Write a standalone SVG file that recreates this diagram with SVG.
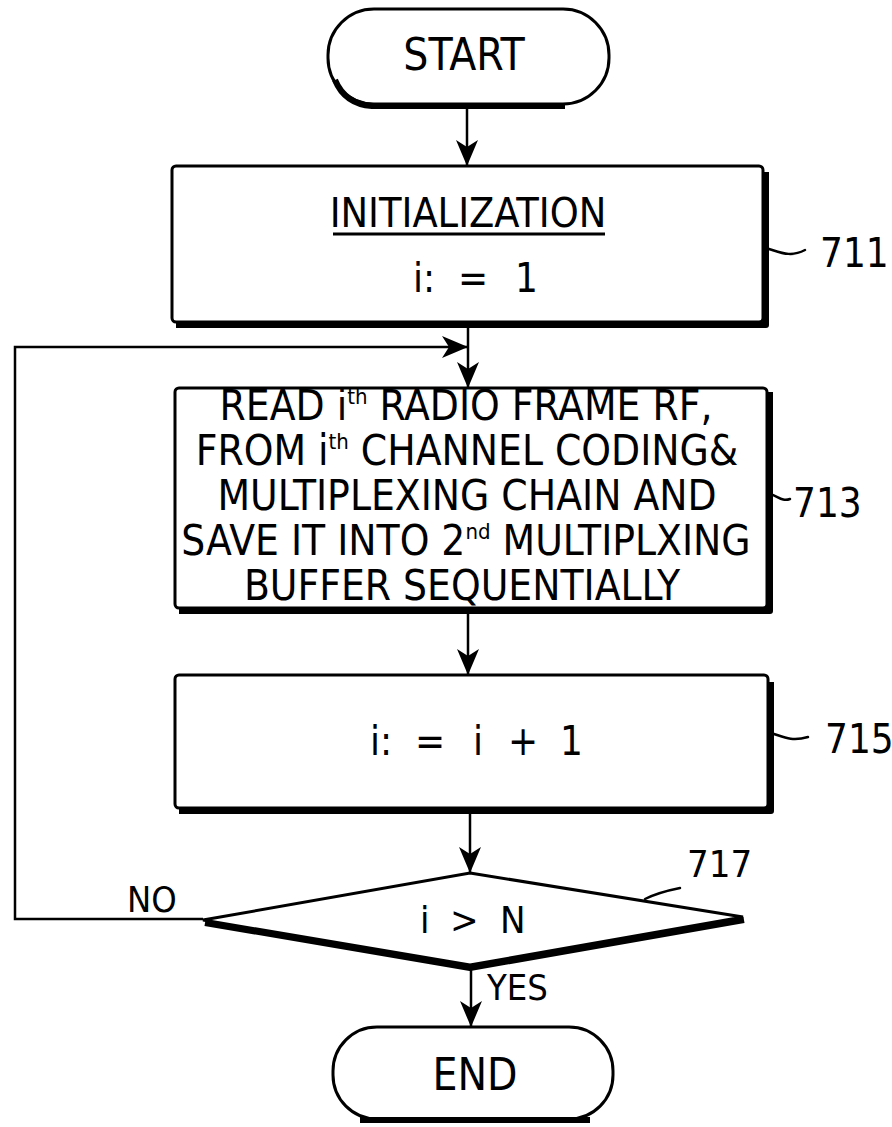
<svg xmlns="http://www.w3.org/2000/svg" width="892" height="1127" viewBox="0 0 892 1127">
<style>
  .t { font-family: 'DejaVu Sans Condensed', 'DejaVu Sans', sans-serif; font-stretch: condensed; fill: #000; }
  .box { fill: #fff; stroke: #000; stroke-width: 3; }
  .shadow { fill: none; stroke: #000; stroke-width: 6; stroke-linejoin: round; }
  .line { fill: none; stroke: #000; stroke-width: 2.5; }
  .lead { fill: none; stroke: #000; stroke-width: 2.5; stroke-linecap: round; }
</style>
<defs>
  <marker id="ah" viewBox="0 0 26 22" refX="25" refY="11" markerWidth="26" markerHeight="22" markerUnits="userSpaceOnUse" orient="auto">
    <path d="M0,0 L26,11 L0,22 L7,11 Z" fill="#000"/>
  </marker>
</defs>
<rect width="892" height="1127" fill="#fff"/>

<g id="connectors">
  <line class="line" x1="467" y1="105" x2="467" y2="165" marker-end="url(#ah)"/>
  <line class="line" x1="468" y1="326" x2="468" y2="387" marker-end="url(#ah)"/>
  <polyline class="line" points="203,919 15,919 15,347 467,347" marker-end="url(#ah)"/>
  <line class="line" x1="468" y1="611" x2="468" y2="674" marker-end="url(#ah)"/>
  <line class="line" x1="470" y1="812" x2="470" y2="872" marker-end="url(#ah)"/>
  <line class="line" x1="471" y1="968" x2="471" y2="1026" marker-end="url(#ah)"/>
  <text class="t" x="127" y="912" font-size="36">NO</text>
  <text class="t" x="487" y="1000" font-size="36">YES</text>
</g>

<g id="start">
  <rect class="box" x="328" y="9" width="281" height="95" rx="46"/>
  <path class="shadow" d="M335 80 Q345 104 372 106 H565"/>
  <text class="t" x="464" y="70" font-size="44" text-anchor="middle">START</text>
</g>

<g id="n711">
  <rect class="box" x="172" y="166" width="591" height="156" rx="4"/>
  <path class="shadow" d="M176 325 H766 V172"/>
  <text class="t" x="468" y="227" font-size="41" text-anchor="middle">INITIALIZATION</text>
  <line x1="333" y1="234" x2="605" y2="234" stroke="#000" stroke-width="3"/>
  <text class="t" font-size="40"><tspan x="413" y="292">i:</tspan><tspan x="458" y="292">=</tspan><tspan x="515" y="292">1</tspan></text>
  <path class="lead" d="M766 248 C780 252, 790 258, 805 250"/>
  <text class="t" x="820" y="267" font-size="40">711</text>
</g>

<g id="n713">
  <rect class="box" x="175" y="388" width="592" height="220" rx="4"/>
  <path class="shadow" d="M179 611 H770 V392"/>
  <g class="t" font-size="42" text-anchor="middle">
    <text x="466" y="420">READ i<tspan font-size="22" dy="-16">th</tspan><tspan dy="16"> RADIO FRAME RF,</tspan></text>
    <text x="467" y="465">FROM i<tspan font-size="22" dy="-16">th</tspan><tspan dy="16"> CHANNEL CODING&amp;</tspan></text>
    <text x="467" y="510">MULTIPLEXING CHAIN AND</text>
    <text x="466" y="555">SAVE IT INTO 2<tspan font-size="22" dy="-16">nd</tspan><tspan dy="16"> MULTIPLXING</tspan></text>
    <text x="462" y="600">BUFFER SEQUENTIALLY</text>
  </g>
  <path class="lead" d="M770 494 C778 496, 782 502, 790 499"/>
  <text class="t" x="793" y="517" font-size="40">713</text>
</g>

<g id="n715">
  <rect class="box" x="175" y="675" width="593" height="133" rx="4"/>
  <path class="shadow" d="M179 811 H771 V682"/>
  <text class="t" font-size="40"><tspan x="370" y="755">i:</tspan><tspan x="415" y="755">=</tspan><tspan x="473" y="755">i</tspan><tspan x="508" y="755">+</tspan><tspan x="560" y="755">1</tspan></text>
  <path class="lead" d="M771 733 C782 736, 790 742, 808 737"/>
  <text class="t" x="825" y="753" font-size="40">715</text>
</g>

<g id="n717">
  <polygon class="box" points="470,873 743,917 470,965 203,920"/>
  <path class="shadow" d="M205 923 L470 968 L744 920"/>
  <text class="t" font-size="38"><tspan x="420" y="933">i</tspan><tspan x="450" y="933">&gt;</tspan><tspan x="500" y="933">N</tspan></text>
  <path class="lead" d="M645 899 C655 894, 665 891, 680 888"/>
  <text class="t" x="687" y="877" font-size="38">717</text>
</g>

<g id="end">
  <rect class="box" x="333" y="1027" width="280" height="92" rx="44"/>
  <path class="shadow" d="M360 1120 H590"/>
  <text class="t" x="475" y="1090" font-size="44" text-anchor="middle">END</text>
</g>
</svg>
